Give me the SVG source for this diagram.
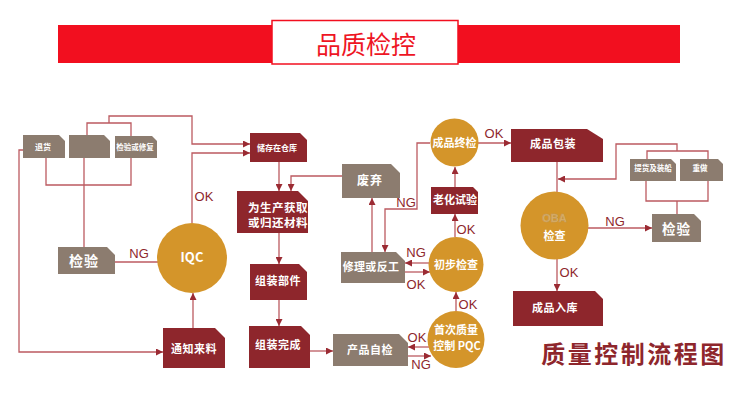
<svg xmlns="http://www.w3.org/2000/svg" width="750" height="400" viewBox="0 0 750 400">
<defs>
<style>
.mr{fill:#8e262c}
.tp{fill:#8c7c6f}
.gd{fill:#d4952a}
.t{fill:#fff;font-family:"Noto Sans CJK SC","Noto Sans",sans-serif;font-weight:bold;text-anchor:middle}
.ln{fill:none;stroke:#bc5a60;stroke-width:1.3}
.lb{fill:#8e262c;font-family:"Liberation Sans",Arial,sans-serif;font-size:13px;text-anchor:middle}
</style>
<marker id="ah" viewBox="0 0 8 8" refX="8" refY="4" markerWidth="7" markerHeight="7" orient="auto" markerUnits="userSpaceOnUse"><path d="M0,0 L8,4 L0,8 Z" fill="#9b2b33"/></marker>
</defs>
<rect width="750" height="400" fill="#fff"/>
<g id="header">
<rect x="58" y="25" width="622" height="38" fill="#f20f1f"/>
<rect x="272" y="20.5" width="186" height="43.5" fill="#fff" stroke="#f20f1f" stroke-width="1.5"/>
<text x="366" y="54" font-family="Noto Sans CJK SC,sans-serif" font-size="25" fill="#ee1524" text-anchor="middle">品质检控</text>
</g>
<g id="connectors">
<path class="ln" d="M23,150 H19 V352 H163" marker-end="url(#ah)"/>
<path class="ln" d="M87,135 V123 H131 V136"/>
<path class="ln" d="M109,123 V116 H192 V144 H250" marker-end="url(#ah)"/>
<path class="ln" d="M192,223 V153 H250" marker-end="url(#ah)"/>
<path class="ln" d="M46,158 V185 H131 V158"/>
<path class="ln" d="M84,158 V247"/>
<path class="ln" d="M115,262 H158"/>
<path class="ln" d="M193,328 V293" marker-end="url(#ah)"/>
<path class="ln" d="M279,162 V191" marker-end="url(#ah)"/>
<path class="ln" d="M342,176 H291 V191" marker-end="url(#ah)"/>
<path class="ln" d="M279,233 V264" marker-end="url(#ah)"/>
<path class="ln" d="M279,300 V326" marker-end="url(#ah)"/>
<path class="ln" d="M310,351 H333" marker-end="url(#ah)"/>
<path class="ln" d="M429,347 H408" marker-end="url(#ah)"/>
<path class="ln" d="M408,356 H431" marker-end="url(#ah)"/>
<path class="ln" d="M456,311 V292" marker-end="url(#ah)"/>
<path class="ln" d="M429,263 H405" marker-end="url(#ah)"/>
<path class="ln" d="M405,272 H430" marker-end="url(#ah)"/>
<path class="ln" d="M372,252 V198" marker-end="url(#ah)"/>
<path class="ln" d="M430,143 H417 V209 H385 V252" marker-end="url(#ah)"/>
<path class="ln" d="M455,237 V214" marker-end="url(#ah)"/>
<path class="ln" d="M455,187 V167" marker-end="url(#ah)"/>
<path class="ln" d="M478,143 H511" marker-end="url(#ah)"/>
<path class="ln" d="M557,162 V192"/>
<path class="ln" d="M647,159 V151 H708 V159"/>
<path class="ln" d="M677,151 V144 H616 V179 H558" marker-end="url(#ah)"/>
<path class="ln" d="M646,181 V201 H708 V181"/>
<path class="ln" d="M677,201 V214"/>
<path class="ln" d="M588,228 H652" marker-end="url(#ah)"/>
<path class="ln" d="M557,259 V291" marker-end="url(#ah)"/>
<text class="lb" x="204" y="201">OK</text>
<text class="lb" x="139" y="258">NG</text>
<text class="lb" x="406" y="207">NG</text>
<text class="lb" x="466" y="234">OK</text>
<text class="lb" x="416" y="257">NG</text>
<text class="lb" x="416" y="289">OK</text>
<text class="lb" x="468" y="309">OK</text>
<text class="lb" x="417" y="342">OK</text>
<text class="lb" x="421" y="369">NG</text>
<text class="lb" x="494" y="138">OK</text>
<text class="lb" x="615" y="226">NG</text>
<text class="lb" x="569" y="277">OK</text>
</g>
<g id="n-tuihuo"><path class="tp" d="M23,135 H59 L65,141 V158 H23 Z"/><text class="t" x="43" y="150" font-size="8">退货</text></g>
<g id="n-blank"><path class="tp" d="M69,135 H104 L110,141 V158 H69 Z"/></g>
<g id="n-jianyanxiufu"><path class="tp" d="M115,136 H152 L157,141 V158 H115 Z"/><text class="t" x="135" y="150" font-size="7.5">检验或修复</text></g>
<g id="n-jianyan-l"><path class="tp" d="M58,247 H107 L115,255 V274 H58 Z"/><text class="t" x="84" y="266" font-size="14" letter-spacing="1">检验</text></g>
<g id="n-iqc"><circle class="gd" cx="192" cy="258" r="35"/><text class="t" x="192" y="262" font-size="13" font-family="Liberation Sans,Arial,sans-serif">IQC</text></g>
<g id="n-tongzhi"><path class="mr" d="M163,328 H215 L225,338 V368 H163 Z"/><text class="t" x="194" y="353" font-size="11" letter-spacing="0.5">通知来料</text></g>
<g id="n-chucun"><path class="mr" d="M250,133 H300 L307,140 V162 H250 Z"/><text class="t" x="277" y="151" font-size="8">储存在仓库</text></g>
<g id="n-weishengchan"><path class="mr" d="M237,191 H298 L308,201 V233 H237 Z"/><text class="t" x="278" y="211.5" font-size="11.5" letter-spacing="0.5">为生产获取</text><text class="t" x="278" y="227" font-size="11.5" letter-spacing="0.5">或归还材料</text></g>
<g id="n-zuzhuangbujian"><path class="mr" d="M250,264 H299 L307,272 V300 H250 Z"/><text class="t" x="278" y="285" font-size="11" letter-spacing="0.5">组装部件</text></g>
<g id="n-zuzhuangwancheng"><path class="mr" d="M249,326 H301 L310,335 V368 H249 Z"/><text class="t" x="278" y="349" font-size="11" letter-spacing="0.5">组装完成</text></g>
<g id="n-feiqi"><path class="tp" d="M342,164 H391 L400,173 V198 H342 Z"/><text class="t" x="370" y="185" font-size="12" letter-spacing="1">废弃</text></g>
<g id="n-xiuli"><path class="tp" d="M341,252 H396 L405,261 V283 H341 Z"/><text class="t" x="371" y="271" font-size="11" letter-spacing="0.3">修理或反工</text></g>
<g id="n-chanpinzijian"><path class="tp" d="M333,334 H399 L408,343 V366 H333 Z"/><text class="t" x="370" y="354" font-size="11" letter-spacing="0.5">产品自检</text></g>
<g id="n-chengpinzhongjian"><circle class="gd" cx="454.5" cy="142.5" r="24"/><text class="t" x="454.5" y="146.5" font-size="11">成品终检</text></g>
<g id="n-laohua"><path class="mr" d="M431,187 H473 L478,192 V214 H431 Z"/><text class="t" x="455" y="203.5" font-size="11">老化试验</text></g>
<g id="n-chubu"><circle class="gd" cx="456" cy="264.5" r="27.5"/><text class="t" x="456" y="268.5" font-size="11">初步检查</text></g>
<g id="n-pqc"><circle class="gd" cx="456" cy="339.5" r="28.5"/><text class="t" x="456" y="333.5" font-size="11">首次质量</text><text class="t" x="457" y="350" font-size="11">控制 PQC</text></g>
<g id="n-chengpinbaozhuang"><path class="mr" d="M511,129 H587 L603,139 V162 H511 Z"/><text class="t" x="553" y="147.5" font-size="11" letter-spacing="0.5">成品包装</text></g>
<g id="n-tihuo"><path class="tp" d="M630,159 H671 L676,164 V181 H630 Z"/><text class="t" x="653" y="171" font-size="7.5">提货及装船</text></g>
<g id="n-chongzuo"><path class="tp" d="M680,159 H718 L723,164 V181 H680 Z"/><text class="t" x="700" y="171" font-size="7.5">重做</text></g>
<g id="n-oba"><circle class="gd" cx="554.5" cy="225.5" r="34"/><text x="554.5" y="222" font-family="Liberation Sans,Arial,sans-serif" font-size="11" font-weight="bold" fill="#dfb062" stroke="#b99a6a" stroke-width="0.4" text-anchor="middle">OBA</text><text class="t" x="554.5" y="240" font-size="11">检查</text></g>
<g id="n-jianyan-r"><path class="tp" d="M652,214 H694 L701,221 V242 H652 Z"/><text class="t" x="676.5" y="233.5" font-size="13.5" letter-spacing="1">检验</text></g>
<g id="n-chengpinruku"><path class="mr" d="M513,291 H595 L603,299 V326 H513 Z"/><text class="t" x="555" y="312" font-size="11" letter-spacing="0.5">成品入库</text></g>
<g id="title2"><text x="634" y="363" font-family="Noto Sans CJK SC,sans-serif" font-weight="bold" font-size="24" letter-spacing="2.5" fill="#8e262c" text-anchor="middle">质量控制流程图</text></g>
</svg>
